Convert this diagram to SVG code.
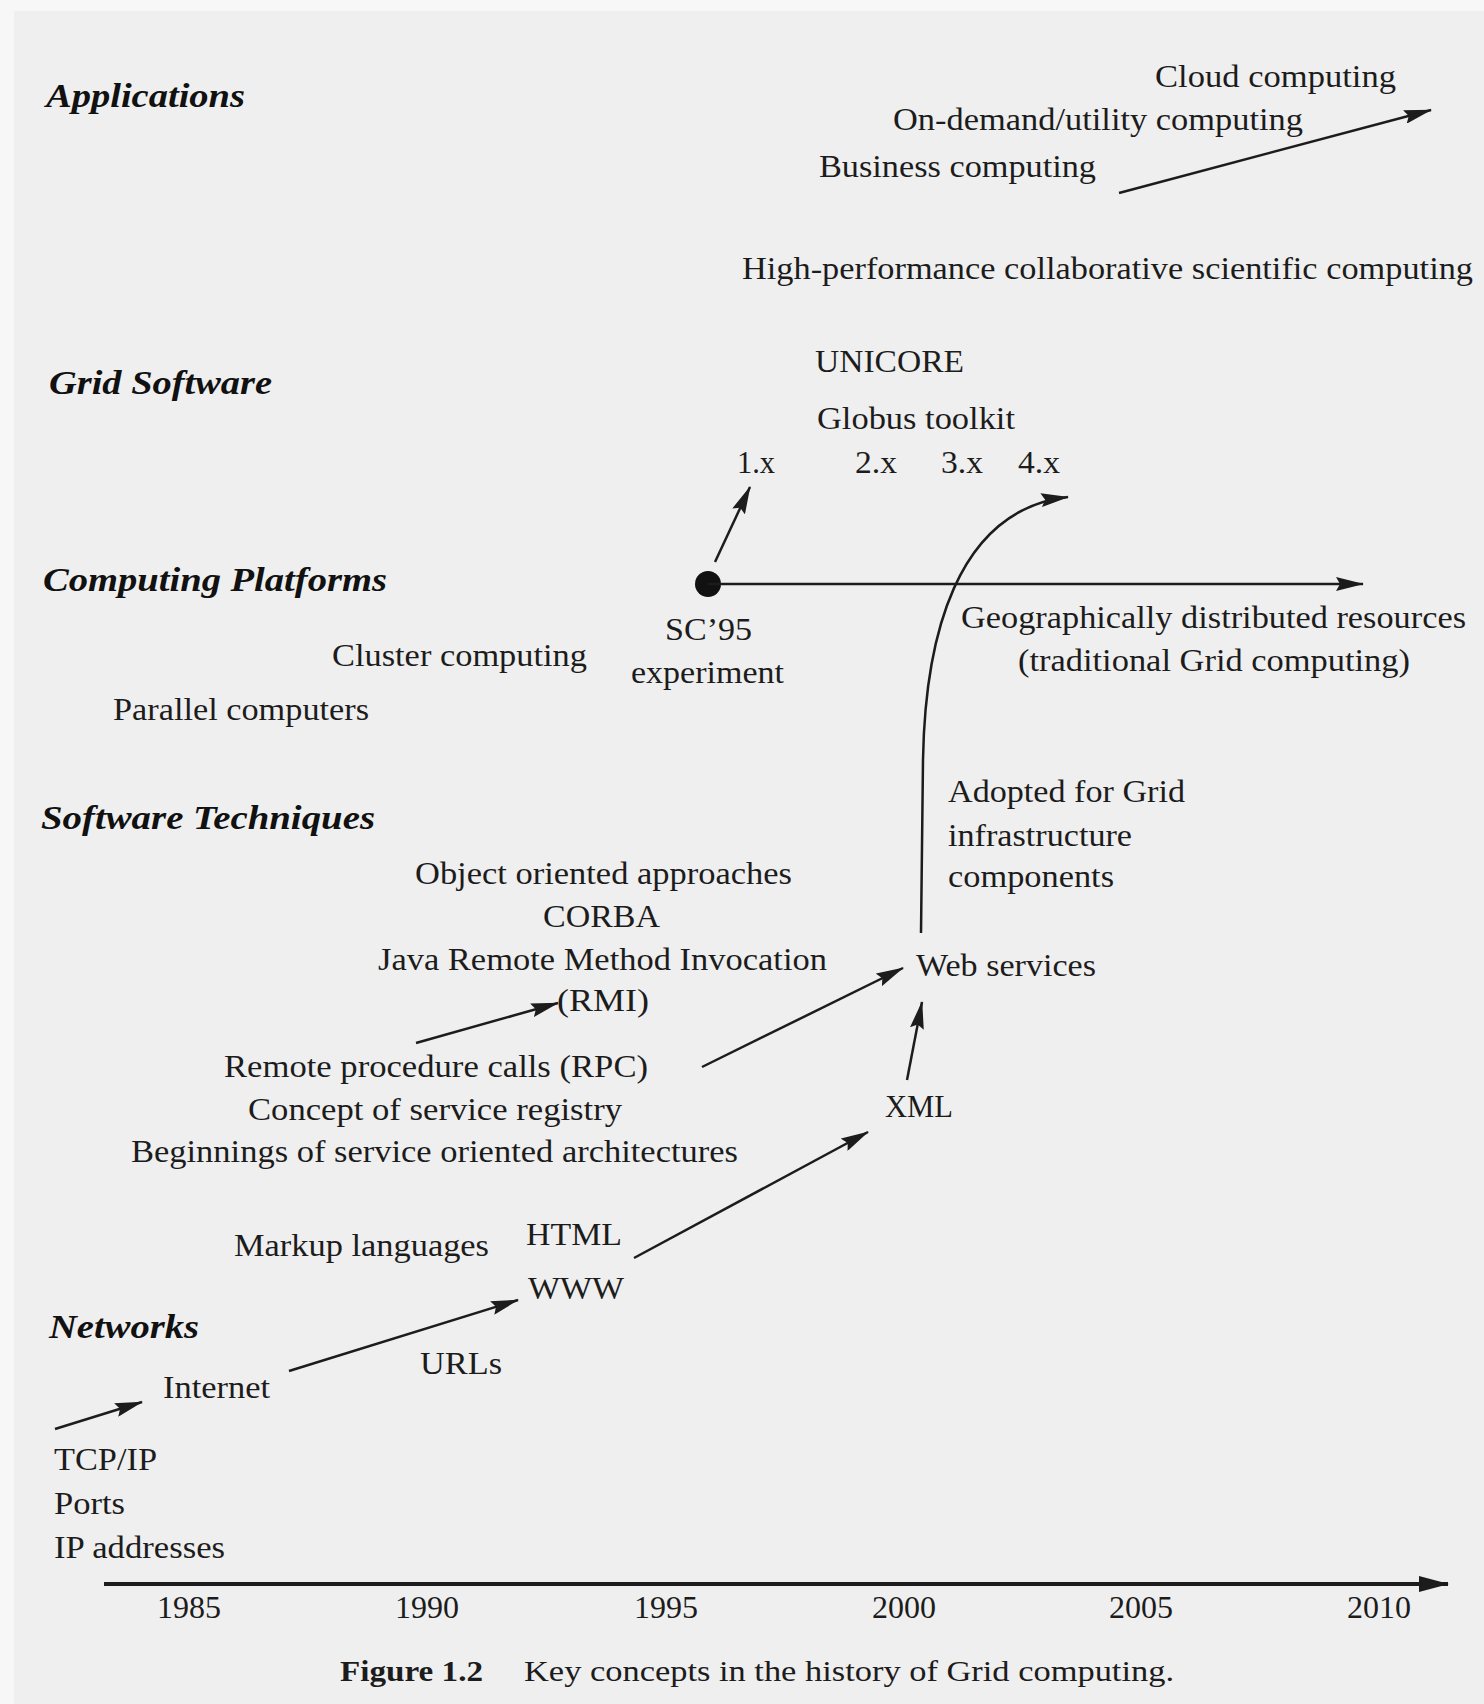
<svg xmlns="http://www.w3.org/2000/svg" width="1484" height="1704" viewBox="0 0 1484 1704">
  <style>
    .t { font-family: "Liberation Serif", "Times New Roman", serif; font-size: 32px; fill: #1c1c1c; }
    .h { font-family: "Liberation Serif", "Times New Roman", serif; font-size: 34px; font-weight: bold; font-style: italic; fill: #111; }
    .yr { font-family: "Liberation Serif", "Times New Roman", serif; font-size: 32px; fill: #1c1c1c; text-anchor: middle; }
    .cap { font-family: "Liberation Serif", "Times New Roman", serif; font-size: 30px; fill: #1c1c1c; }
    .ln { fill: none; stroke: #1c1c1c; stroke-width: 2.5; }
  </style>
  <defs>
    <marker id="arrow" viewBox="0 0 28 14" refX="27" refY="7" markerWidth="28" markerHeight="14" markerUnits="userSpaceOnUse" orient="auto">
      <path d="M0,0 L28,7 L0,14 L4,7 Z" fill="#1c1c1c"/>
    </marker>
    <marker id="axisArrow" viewBox="0 0 30 16" refX="29" refY="8" markerWidth="30" markerHeight="16" markerUnits="userSpaceOnUse" orient="auto">
      <path d="M0,0 L30,8 L0,16 Z" fill="#1c1c1c"/>
    </marker>
  </defs>

  <!-- page -->
  <rect x="0" y="0" width="1484" height="1704" fill="#f7f7f7"/>
  <rect x="14" y="11" width="1470" height="1693" fill="#efefef"/>

  <!-- category headings -->
  <g id="cat-applications"><text class="h" x="46" y="107" textLength="199" lengthAdjust="spacingAndGlyphs">Applications</text></g>
  <g id="cat-grid-software"><text class="h" x="49" y="394" textLength="223" lengthAdjust="spacingAndGlyphs">Grid Software</text></g>
  <g id="cat-computing-platforms"><text class="h" x="43" y="591" textLength="344" lengthAdjust="spacingAndGlyphs">Computing Platforms</text></g>
  <g id="cat-software-techniques"><text class="h" x="41" y="829" textLength="334" lengthAdjust="spacingAndGlyphs">Software Techniques</text></g>
  <g id="cat-networks"><text class="h" x="49" y="1338" textLength="150" lengthAdjust="spacingAndGlyphs">Networks</text></g>

  <!-- applications -->
  <g id="cloud"><text class="t" x="1155" y="87" textLength="241" lengthAdjust="spacingAndGlyphs">Cloud computing</text></g>
  <g id="on-demand"><text class="t" x="893" y="130" textLength="410" lengthAdjust="spacingAndGlyphs">On-demand/utility computing</text></g>
  <g id="business"><text class="t" x="819" y="177" textLength="277" lengthAdjust="spacingAndGlyphs">Business computing</text></g>
  <g id="hpc"><text class="t" x="742" y="279" textLength="731" lengthAdjust="spacingAndGlyphs">High-performance collaborative scientific computing</text></g>

  <!-- grid software -->
  <g id="unicore"><text class="t" x="815" y="372" textLength="149" lengthAdjust="spacingAndGlyphs">UNICORE</text></g>
  <g id="globus"><text class="t" x="817" y="429" textLength="198" lengthAdjust="spacingAndGlyphs">Globus toolkit</text></g>
  <g id="globus-versions">
    <text class="t" x="737" y="473" textLength="38" lengthAdjust="spacingAndGlyphs">1.x</text>
    <text class="t" x="855" y="473" textLength="42" lengthAdjust="spacingAndGlyphs">2.x</text>
    <text class="t" x="941" y="473" textLength="42" lengthAdjust="spacingAndGlyphs">3.x</text>
    <text class="t" x="1018" y="473" textLength="42" lengthAdjust="spacingAndGlyphs">4.x</text>
  </g>

  <!-- computing platforms -->
  <g id="sc95">
    <circle cx="708" cy="584" r="13" fill="#111"/>
    <text class="t" x="665" y="640" textLength="87" lengthAdjust="spacingAndGlyphs">SC’95</text>
    <text class="t" x="631" y="683" textLength="153" lengthAdjust="spacingAndGlyphs">experiment</text>
  </g>
  <g id="geo">
    <text class="t" x="961" y="628" textLength="505" lengthAdjust="spacingAndGlyphs">Geographically distributed resources</text>
    <text class="t" x="1018" y="671" textLength="392" lengthAdjust="spacingAndGlyphs">(traditional Grid computing)</text>
  </g>
  <g id="cluster"><text class="t" x="332" y="666" textLength="255" lengthAdjust="spacingAndGlyphs">Cluster computing</text></g>
  <g id="parallel"><text class="t" x="113" y="720" textLength="256" lengthAdjust="spacingAndGlyphs">Parallel computers</text></g>

  <!-- software techniques -->
  <g id="adopted">
    <text class="t" x="948" y="802" textLength="237" lengthAdjust="spacingAndGlyphs">Adopted for Grid</text>
    <text class="t" x="948" y="846" textLength="184" lengthAdjust="spacingAndGlyphs">infrastructure</text>
    <text class="t" x="948" y="887" textLength="166" lengthAdjust="spacingAndGlyphs">components</text>
  </g>
  <g id="object-oriented">
    <text class="t" x="415" y="884" textLength="377" lengthAdjust="spacingAndGlyphs">Object oriented approaches</text>
    <text class="t" x="543" y="927" textLength="117" lengthAdjust="spacingAndGlyphs">CORBA</text>
    <text class="t" x="378" y="970" textLength="449" lengthAdjust="spacingAndGlyphs">Java Remote Method Invocation</text>
    <text class="t" x="557" y="1011" textLength="92" lengthAdjust="spacingAndGlyphs">(RMI)</text>
  </g>
  <g id="web-services"><text class="t" x="916" y="976" textLength="180" lengthAdjust="spacingAndGlyphs">Web services</text></g>
  <g id="rpc">
    <text class="t" x="224" y="1077" textLength="424" lengthAdjust="spacingAndGlyphs">Remote procedure calls (RPC)</text>
    <text class="t" x="248" y="1120" textLength="374" lengthAdjust="spacingAndGlyphs">Concept of service registry</text>
    <text class="t" x="131" y="1162" textLength="607" lengthAdjust="spacingAndGlyphs">Beginnings of service oriented architectures</text>
  </g>
  <g id="xml"><text class="t" x="885" y="1117" textLength="68" lengthAdjust="spacingAndGlyphs">XML</text></g>
  <g id="markup"><text class="t" x="234" y="1256" textLength="255" lengthAdjust="spacingAndGlyphs">Markup languages</text></g>
  <g id="html"><text class="t" x="526" y="1245" textLength="96" lengthAdjust="spacingAndGlyphs">HTML</text></g>

  <!-- networks -->
  <g id="www"><text class="t" x="528" y="1299" textLength="96" lengthAdjust="spacingAndGlyphs">WWW</text></g>
  <g id="urls"><text class="t" x="420" y="1374" textLength="82" lengthAdjust="spacingAndGlyphs">URLs</text></g>
  <g id="internet"><text class="t" x="163" y="1398" textLength="107" lengthAdjust="spacingAndGlyphs">Internet</text></g>
  <g id="tcpip">
    <text class="t" x="54" y="1470" textLength="103" lengthAdjust="spacingAndGlyphs">TCP/IP</text>
    <text class="t" x="54" y="1514" textLength="71" lengthAdjust="spacingAndGlyphs">Ports</text>
    <text class="t" x="54" y="1558" textLength="171" lengthAdjust="spacingAndGlyphs">IP addresses</text>
  </g>

  <!-- time axis -->
  <g id="axis">
    <line x1="104" y1="1584" x2="1448" y2="1584" stroke="#1c1c1c" stroke-width="4" marker-end="url(#axisArrow)"/>
    <text class="yr" x="189" y="1618">1985</text>
    <text class="yr" x="427" y="1618">1990</text>
    <text class="yr" x="666" y="1618">1995</text>
    <text class="yr" x="904" y="1618">2000</text>
    <text class="yr" x="1141" y="1618">2005</text>
    <text class="yr" x="1379" y="1618">2010</text>
  </g>

  <!-- connectors -->
  <g id="connectors" class="ln">
    <path class="ln" d="M1119,193 L1431,110" marker-end="url(#arrow)"/>
    <path class="ln" d="M715,562 L750,487" marker-end="url(#arrow)"/>
    <path class="ln" d="M708,584 L1363,584" marker-end="url(#arrow)"/>
    <path class="ln" d="M921,933 L923,760 C925,640 955,510 1068,497" marker-end="url(#arrow)"/>
    <path class="ln" d="M907,1080 L922,1002" marker-end="url(#arrow)"/>
    <path class="ln" d="M702,1067 L903,968" marker-end="url(#arrow)"/>
    <path class="ln" d="M416,1043 L558,1003" marker-end="url(#arrow)"/>
    <path class="ln" d="M634,1258 L868,1132" marker-end="url(#arrow)"/>
    <path class="ln" d="M289,1371 L518,1300" marker-end="url(#arrow)"/>
    <path class="ln" d="M55,1429 L142,1402" marker-end="url(#arrow)"/>
  </g>

  <!-- caption -->
  <g id="caption">
    <text class="cap" x="340" y="1681" font-weight="bold" textLength="143" lengthAdjust="spacingAndGlyphs">Figure 1.2</text>
    <text class="cap" x="524" y="1681" textLength="650" lengthAdjust="spacingAndGlyphs">Key concepts in the history of Grid computing.</text>
  </g>
</svg>
